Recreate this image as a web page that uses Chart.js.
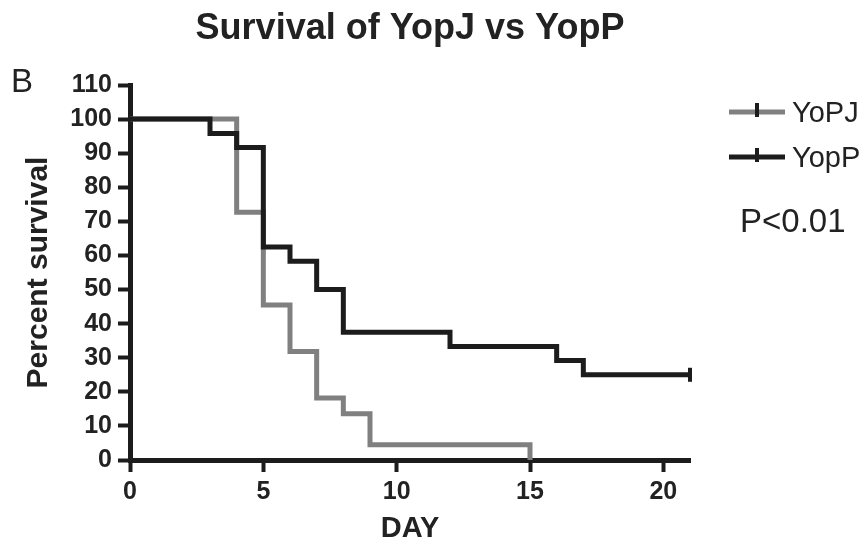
<!DOCTYPE html>
<html>
<head>
<meta charset="utf-8">
<script src="https://cdn.jsdelivr.net/npm/chart.js@4.4.0/dist/chart.umd.min.js"></script>
<style>
html,body{margin:0;padding:0;background:#fff;}
#wrap{width:866px;height:547px;position:relative;}
</style>
</head>
<body>
<div id="wrap"><canvas id="c" width="866" height="547"></canvas></div>
<script>
// ---- data ----
const chartTitle = "Survival of YopJ vs YopP";
const panelLabel = "B";
const pValueText = "P<0.01";
const xAxisTitle = "DAY";
const yAxisTitle = "Percent survival";
const seriesNames = ["YoPJ", "YopP"];
const yopJDays   = [0, 4, 5, 6, 7, 8, 9, 15];
const yopJValues = [100, 72.7, 45.5, 31.8, 18.2, 13.6, 4.5, 0];
const yopPDays   = [0, 3, 4, 5, 6, 7, 8, 12, 16, 17, 21];
const yopPValues = [100, 95.8, 91.7, 62.5, 58.3, 50, 37.5, 33.3, 29.2, 25, 25];
const xTicks = [0, 5, 10, 15, 20];
const yTicks = [0, 10, 20, 30, 40, 50, 60, 70, 80, 90, 100, 110];

const FONT = "'Liberation Sans', Arial, Helvetica, sans-serif";
const INK = '#1c1c1c';
const GREY = '#808080';
const TEXT = '#222222';

function pts(xs, ys){ return xs.map((x,i)=>({x:x, y:ys[i]})); }

const decor = {
  id: 'decor',
  afterDraw(chart){
    const ctx = chart.ctx;
    ctx.save();
    ctx.fillStyle = TEXT;
    // title
    ctx.font = "bold 36px " + FONT;
    ctx.textAlign = 'center';
    ctx.textBaseline = 'alphabetic';
    ctx.fillText(chartTitle, 410, 39);
    // panel label
    ctx.font = "33px " + FONT;
    ctx.textAlign = 'left';
    ctx.fillText(panelLabel, 11, 92);
    // legend
    const items = [
      {label: seriesNames[0], color: GREY, y: 112},
      {label: seriesNames[1], color: INK, y: 157}
    ];
    items.forEach(it => {
      ctx.strokeStyle = it.color;
      ctx.lineWidth = 5;
      ctx.beginPath(); ctx.moveTo(729, it.y); ctx.lineTo(785, it.y); ctx.stroke();
      ctx.strokeStyle = INK;
      ctx.lineWidth = 4;
      ctx.beginPath(); ctx.moveTo(757, it.y - 9); ctx.lineTo(757, it.y + 5); ctx.stroke();
      ctx.fillStyle = TEXT;
      ctx.font = "29px " + FONT;
      ctx.textAlign = 'left';
      ctx.textBaseline = 'alphabetic';
      ctx.fillText(it.label, 792, it.y + 10);
    });
    ctx.font = "33px " + FONT;
    ctx.fillText(pValueText, 740, 232);
    ctx.restore();
  }
};

new Chart(document.getElementById('c'), {
  type: 'line',
  data: {
    datasets: [
      {
        label: seriesNames[0],
        data: pts(yopJDays, yopJValues),
        borderColor: GREY,
        backgroundColor: GREY,
        borderWidth: 5,
        stepped: 'before',
        pointRadius: 0,
        fill: false,
        clip: false,
        order: 1
      },
      {
        label: seriesNames[1],
        data: pts(yopPDays, yopPValues),
        borderColor: INK,
        backgroundColor: INK,
        borderWidth: 5,
        stepped: 'before',
        pointStyle: 'line',
        rotation: 90,
        pointRadius: c => c.dataIndex === yopPDays.length - 1 ? 7 : 0,
        pointBorderWidth: 4,
        pointBorderColor: INK,
        fill: false,
        clip: false,
        order: 0
      }
    ]
  },
  options: {
    responsive: false,
    animation: false,
    events: [],
    layout: { padding: { top: 85, right: 176, left: 0, bottom: 0 } },
    plugins: { legend: { display: false }, title: { display: false }, tooltip: { enabled: false } },
    scales: {
      x: {
        type: 'linear',
        min: 0, max: 21,
        afterBuildTicks: s => { s.ticks = xTicks.map(v => ({value: v})); },
        afterFit: s => { s.height = 87; },
        grid: { drawOnChartArea: false, drawTicks: true, tickLength: 12, tickWidth: 4, tickColor: INK },
        border: { display: true, width: 5, color: INK },
        ticks: { color: TEXT, font: { family: FONT, size: 25, weight: 'bold' }, padding: 5, maxRotation: 0, autoSkip: false },
        title: { display: true, text: xAxisTitle, color: TEXT, font: { family: FONT, size: 29, weight: 'bold' }, padding: { top: 0, bottom: 1 } }
      },
      y: {
        type: 'linear',
        min: 0, max: 110,
        afterBuildTicks: s => { s.ticks = yTicks.map(v => ({value: v})); },
        afterFit: s => { s.width = 130; },
        grid: { drawOnChartArea: false, drawTicks: true, tickLength: 12, tickWidth: 4, tickColor: INK },
        border: { display: true, width: 5, color: INK },
        ticks: { color: TEXT, font: { family: FONT, size: 25, weight: 'bold' }, padding: 6, autoSkip: false },
        title: { display: true, text: yAxisTitle, color: TEXT, font: { family: FONT, size: 30, weight: 'bold' }, padding: { top: 21, bottom: 0 } }
      }
    }
  },
  plugins: [decor]
});
</script>
</body>
</html>
